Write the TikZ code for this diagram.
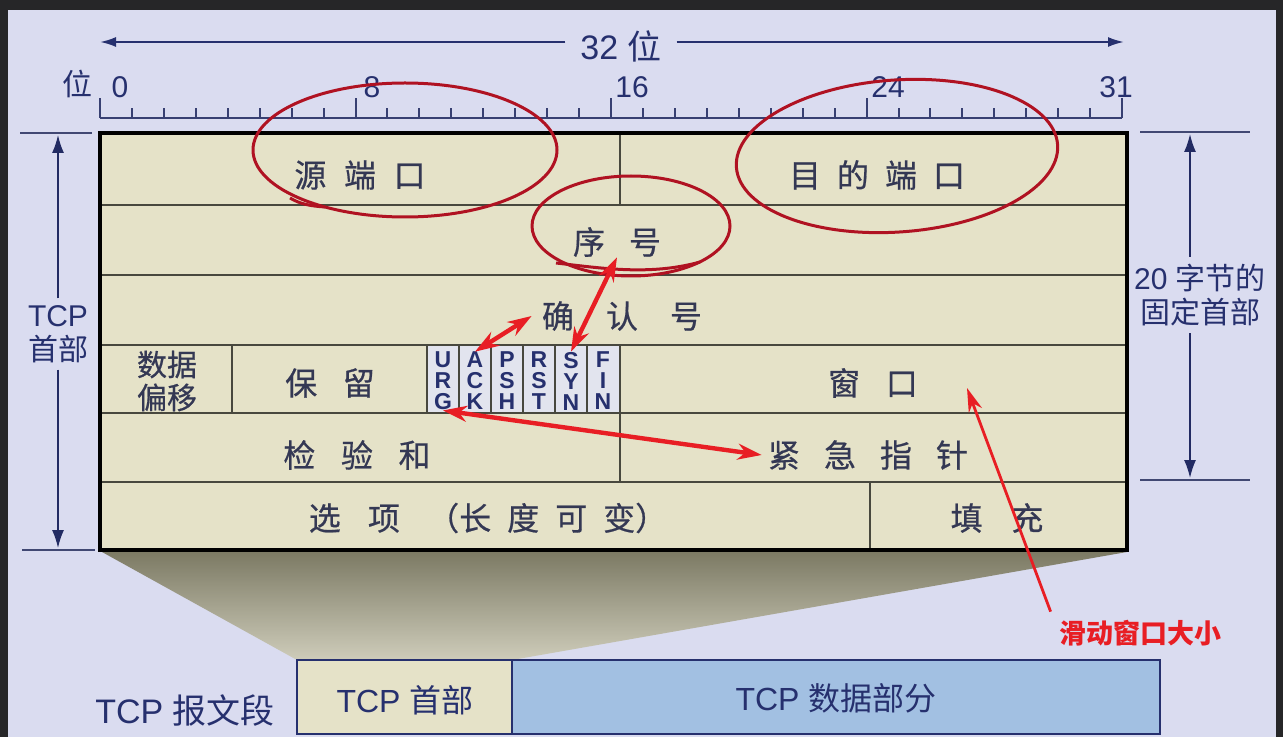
\documentclass[tikz,border=0pt]{standalone}
\usepackage{fontspec}
\setmainfont{Liberation Sans}
\newfontfamily\cjk{Noto Sans CJK SC}
\newfontfamily\cjkm[FakeBold=0.6]{Noto Sans CJK SC}
\usetikzlibrary{arrows.meta}

\definecolor{frame}{RGB}{38,38,40}
\definecolor{screen}{RGB}{218,220,240}
\definecolor{beige}{RGB}{229,226,200}
\definecolor{flagbg}{RGB}{226,228,238}
\definecolor{gridc}{RGB}{72,72,62}
\definecolor{navy}{RGB}{38,48,110}
\definecolor{ink}{RGB}{52,56,84}
\definecolor{databl}{RGB}{162,192,226}
\definecolor{shtop}{RGB}{124,122,100}
\definecolor{shbot}{RGB}{206,204,186}
\definecolor{ringred}{RGB}{176,18,34}
\definecolor{hotred}{RGB}{232,30,36}

\newcommand{\wsp}[1]{\hspace{#1em}}

\tikzset{
  cell/.style={font={\cjkm\fontsize{16}{19}\selectfont}, text=ink, inner sep=0pt, align=center},
  flag/.style={font={\bfseries\fontsize{11.5}{10.5}\selectfont}, text=navy, align=center, inner sep=0pt},
  rowline/.style={draw=gridc, line width=1pt},
  ruler/.style={draw=navy!80!gray, line width=1pt},
  dimtext/.style={text=navy, align=center, font={\fontsize{15}{17}\selectfont}},
  dimline/.style={draw=navy!70!gray, line width=0.8pt},
  dimarr/.style={draw=navy!90!black, line width=0.8pt, -{Latex[length=9pt,width=6pt]}},
  ring/.style={draw=ringred, line width=1.5pt},
  hint/.style={draw=hotred, line width=2.2pt, {Stealth[length=12pt,width=8pt]}-{Stealth[length=12pt,width=8pt]}},
  hintone/.style={draw=hotred, line width=1.4pt, -{Stealth[length=12pt,width=7pt]}},
}

\begin{document}
\begin{tikzpicture}[x=0.5pt,y=-0.5pt]
\fill[frame] (0,0) rectangle (1283,737);
\fill[screen] (8,10) rectangle (1276,737);

% 32 bit width
\node[text=navy, font={\fontsize{17}{20}\selectfont}] (bits) at (621,46) {32 {\cjk 位}};
\coordinate (bitl) at (100,42);
\coordinate (bitr) at (1124,42);
\draw[navy, line width=1pt, -{Latex[length=8pt,width=5pt]}] ([xshift=-4pt]bits.west |- bitl) -- (bitl);
\draw[navy, line width=1pt, -{Latex[length=8pt,width=5pt]}] ([xshift=4pt]bits.east |- bitr) -- (bitr);

% ruler
\draw[ruler] (100,118) -- (1122,118);
\foreach \i in {0,...,32}
  \draw[ruler] ({100+\i*31.94},118) -- ++(0,-10);
\foreach \i in {0,8,16,24,32}
  \draw[ruler] ({100+\i*31.94},118) -- ++(0,-20);
\node[text=navy, font={\cjk\fontsize{15}{17}\selectfont}] (wei) at (77,84) {位};
\foreach \b/\x in {0/120,8/372,16/632,24/888,31/1116}
  \node[text=navy, font={\fontsize{15}{17}\selectfont}] (b\b) at (\x,87) {\b};

% fan out to the segment
\shade[top color=shtop, bottom color=shbot] (102,552) -- (1127,552) -- (512,660) -- (297,660) -- cycle;

% header fields
\fill[beige] (100,133) rectangle (1127,550);
\fill[flagbg] (427,345) rectangle (620,413);
\foreach \y in {205,275,345,413,482}
  \draw[rowline] (100,\y) -- (1127,\y);
\draw[rowline] (620,133) -- (620,205);
\foreach \x in {232,427,459,491,523,555,587,620}
  \draw[rowline] (\x,345) -- (\x,413);
\draw[rowline] (620,413) -- (620,482);
\draw[rowline] (870,482) -- (870,550);
\draw[black, line width=1.6pt] (100,133) rectangle (1127,550);

\node[cell] (src) at (360,175) {源\wsp{.55}端\wsp{.55}口};
\node[cell] (dst) at (877,175) {目\wsp{.5}的\wsp{.5}端\wsp{.5}口};
\node[cell] (seq) at (617,242) {序\wsp{.75}号};
\node[cell] (ackno) at (622,316) {确\wsp{1}认\wsp{1}号};
\node[cell, font={\cjkm\fontsize{15}{16.5}\selectfont}] (off) at (167,381) {数据\\偏移};
\node[cell] (rsv) at (330,383) {保\wsp{.8}留};
\node[flag] (urg) at (443,381) {U\\R\\G};
\node[flag] (ack) at (475,381) {A\\C\\K};
\node[flag] (psh) at (507,381) {P\\S\\H};
\node[flag] (rst) at (539,381) {R\\S\\T};
\node[flag] (syn) at (571,381) {S\\Y\\N};
\node[flag] (fin) at (603,381) {F\\I\\N};
\node[cell] (win) at (873,383) {窗\wsp{.8}口};
\node[cell] (chk) at (357,455) {检\wsp{.8}验\wsp{.8}和};
\node[cell] (urgptr) at (868,455) {紧\wsp{.75}急\wsp{.75}指\wsp{.75}针};
\node[cell] (opt) at (488,518) {选\wsp{.85}项\wsp{.85}（长\wsp{.5}度\wsp{.5}可\wsp{.5}变）};
\node[cell] (pad) at (997,518) {填\wsp{.9}充};

% header size marks
\draw[dimline] (20,133) -- (92,133);
\draw[dimline] (22,550) -- (95,550);
\node[dimtext] (hdr) at (58,334) {TCP\\{\cjk 首部}};
\coordinate (hdrtop) at (58,135);
\coordinate (hdrbot) at (58,548);
\draw[dimarr] (hdr.north) -- (hdrtop);
\draw[dimarr] (hdr.south) -- (hdrbot);

\draw[dimline] (1140,132) -- (1250,132);
\draw[dimline] (1140,480) -- (1250,480);
\node[dimtext] (fix) at (1200,295) {20 {\cjk 字节的}\\{\cjk 固定首部}};
\coordinate (fixtop) at (1190,134);
\coordinate (fixbot) at (1190,478);
\draw[dimarr] (fix.north -| fixtop) -- (fixtop);
\draw[dimarr] (fix.south -| fixbot) -- (fixbot);

% segment
\draw[navy, line width=1.2pt, fill=beige] (297,660) rectangle (512,734);
\draw[navy, line width=1.2pt, fill=databl] (512,660) rectangle (1160,734);
\node[text=navy, font={\fontsize{16}{19}\selectfont}] (seghdr) at (405,700) {TCP {\cjk 首部}};
\node[text=navy, font={\fontsize{16}{19}\selectfont}] (segdata) at (836,698) {TCP {\cjk 数据部分}};
\node[text=navy, font={\fontsize{17}{20}\selectfont}] (seg) at (185,711) {TCP {\cjk 报文段}};

% annotations
\draw[ring] (405,150) ellipse [x radius=152, y radius=67];
\draw[ring] (290,198) .. controls (300,204) and (310,206) .. (325,207);
\draw[ring] (897,156) ellipse [x radius=161, y radius=76, rotate=4];
\draw[ring] (631,226) ellipse [x radius=99, y radius=50];
\draw[ring] (556,263) .. controls (600,268) and (650,276) .. (700,262);

\draw[hint] (ack.north) -- ([xshift=-5pt]ackno.west);
\draw[hint] (syn.north) -- (seq.south);
\draw[hint] (urg.south) -- ([xshift=-3pt]urgptr.west);

\node[text=hotred, font={\cjk\bfseries\fontsize{13.5}{16}\selectfont}, inner sep=4pt] (slide) at (1140,633) {滑动窗口大小};
\coordinate (winpt) at (967,388);
\draw[hintone] (slide.north west) -- (winpt);
\end{tikzpicture}
\end{document}
